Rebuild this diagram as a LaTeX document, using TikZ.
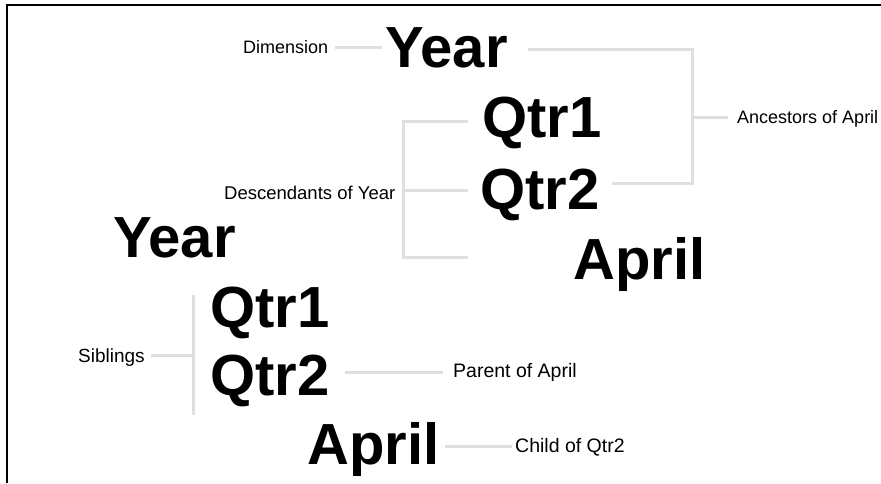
\documentclass[tikz,border=0pt]{standalone}
\usepackage{fontspec}
\setmainfont{Liberation Sans}
\begin{document}
\begin{tikzpicture}[x=1pt,y=-1pt,
  big/.style={anchor=base west,inner sep=0pt,font=\fontsize{58}{60}\selectfont\bfseries},
  lbl/.style={anchor=base west,inner sep=0pt,font=\fontsize{18}{20}\selectfont},
  link/.style={draw=gray!25,line width=3pt}]
\useasboundingbox (0,0) rectangle (881,483);
\draw [line width=1.5pt] (881,5) -- (7,5) -- (7,483);

\node [big] (yearA) at (385,67) {Year};
\node [big] (qtrA1) at (482,137) {Qtr1};
\node [big] (qtrA2) at (480,209) {Qtr2};
\node [big] (aprilA) at (573,279) {April};

\node [big] (yearB) at (113,257) {Year};
\node [big] (qtrB1) at (210,327) {Qtr1};
\node [big] (qtrB2) at (210,395) {Qtr2};
\node [big] (aprilB) at (307,464) {April};

\node [lbl] (dim) at (243,53) {Dimension};
\node [lbl] (anc) at (737,123) {Ancestors of April};
\node [lbl, font=\fontsize{18.5}{20}\selectfont] (desc) at (224,199) {Descendants of Year};
\node [lbl, font=\fontsize{19}{20}\selectfont] (sib) at (78,362) {Siblings};
\node [lbl, font=\fontsize{19.5}{20}\selectfont] (par) at (453,377) {Parent of April};
\node [lbl, font=\fontsize{19.5}{20}\selectfont] (child) at (515,452) {Child of Qtr2};

\coordinate (ancTop) at (692,49);
\coordinate (ancMid) at (692,117);
\coordinate (ancBot) at (692,183);
\coordinate (descTop) at (403,121);
\coordinate (descMid) at (403,190);
\coordinate (descBot) at (403,257);
\coordinate (sibTop) at (193,295);
\coordinate (sibMid) at (193,355);
\coordinate (sibBot) at (193,415);

\draw [link] ([xshift=7pt]dim.east |- 0,47) -- ([xshift=-3pt]yearA.west |- 0,47);
\draw [link] ([xshift=20pt]yearA.east |- ancTop) -- (ancTop) -- (ancBot) -- ([xshift=12pt]qtrA2.east |- ancBot);
\draw [link] (ancMid) -- ([xshift=-9pt]anc.west |- ancMid);

\draw [link] ([xshift=-14pt]qtrA1.west |- descTop) -- (descTop) -- (descBot) -- ++(65,0);
\draw [link] (descMid) -- ([xshift=-12pt]qtrA2.west |- descMid);

\draw [link] (sibTop) -- (sibBot);
\draw [link] ([xshift=6pt]sib.east |- sibMid) -- (sibMid);

\draw [link] ([xshift=15pt]qtrB2.east |- 0,372) -- ([xshift=-10pt]par.west |- 0,372);
\draw [link] ([xshift=5pt]aprilB.east |- 0,446) -- ([xshift=-3pt]child.west |- 0,446);
\end{tikzpicture}
\end{document}
